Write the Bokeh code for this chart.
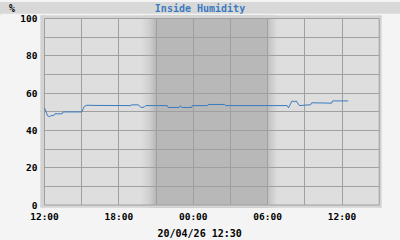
import pandas as pd
import numpy as np
from bokeh.plotting import figure
from bokeh.layouts import column
from bokeh.models import FixedTicker, DatetimeTickFormatter, Range1d, Div, Title
from bokeh.embed import file_html
from bokeh.resources import INLINE

# ---- data ----
times = [
    "2026-04-19 12:00", "2026-04-19 12:15", "2026-04-19 12:25", "2026-04-19 12:35",
    "2026-04-19 12:45", "2026-04-19 12:50", "2026-04-19 13:25", "2026-04-19 13:30",
    "2026-04-19 15:00", "2026-04-19 15:12", "2026-04-19 15:25", "2026-04-19 16:00",
    "2026-04-19 18:58", "2026-04-19 19:00", "2026-04-19 19:35", "2026-04-19 19:45",
    "2026-04-19 20:02", "2026-04-19 20:10", "2026-04-19 21:55", "2026-04-19 21:58",
    "2026-04-19 22:52", "2026-04-19 22:57", "2026-04-19 23:06", "2026-04-19 23:52",
    "2026-04-19 23:56", "2026-04-20 01:08", "2026-04-20 01:12", "2026-04-20 02:32",
    "2026-04-20 02:36", "2026-04-20 07:35", "2026-04-20 07:41", "2026-04-20 07:58",
    "2026-04-20 08:10", "2026-04-20 08:18", "2026-04-20 08:34", "2026-04-20 09:05",
    "2026-04-20 09:28", "2026-04-20 09:33", "2026-04-20 10:34", "2026-04-20 11:10",
    "2026-04-20 11:14", "2026-04-20 12:30",
]
humidity = [
    52.0, 47.8, 47.4, 48.0,
    48.0, 48.9, 48.9, 49.9,
    49.9, 52.8, 53.5, 53.4,
    53.3, 53.7, 53.7, 52.4,
    52.4, 53.3, 53.3, 52.3,
    52.3, 53.2, 52.3, 52.3,
    53.3, 53.3, 53.9, 53.9,
    53.3, 53.3, 52.1, 55.8,
    55.4, 55.8, 53.3, 53.6,
    53.7, 54.8, 54.7, 54.6,
    55.8, 55.8,
]
title_text = "Inside Humidity"
unit_text = "%"
date_text = "20/04/26 12:30"
y_ticks = [0, 20, 40, 60, 80, 100]
x_tick_times = ["2026-04-19 12:00", "2026-04-19 18:00", "2026-04-20 00:00",
                "2026-04-20 06:00", "2026-04-20 12:00"]
x_start, x_end = "2026-04-19 12:00", "2026-04-20 15:00"
night_start, night_end = "2026-04-19 21:00", "2026-04-20 06:00"


def ms(t):
    return pd.Timestamp(t).value / 1e6


H = 3600 * 1000.0
xs = [ms(t) for t in times]
x0, x1 = ms(x_start), ms(x_end)

BG = "#f4f4f4"
BAND = "#d3d3d3"
PLOT = "#dedede"
NIGHT = "#b8b8b8"
GRID = "#a0a0a0"
BLUE = "#3a7bbf"
FONT = "DejaVu Sans Mono"

p = figure(width=400, height=227, x_axis_type="datetime", output_backend="svg",
           toolbar_location=None, min_border_left=40, min_border_right=19,
           min_border_top=2, min_border_bottom=33,
           x_range=Range1d(x0 - 0.3227 * H, x1 + 0.1855 * H),
           y_range=Range1d(-1.34, 101.61), margin=0)
p.background_fill_color = PLOT
p.border_fill_color = BG
p.outline_line_color = None

# night shading with soft edges
p.quad(left=[ms(night_start)], right=[ms(night_end)], bottom=[-5], top=[105],
       fill_color=NIGHT, line_color=None, level="image")
def hexmix(a, b, f):
    ca = [int(a[i:i + 2], 16) for i in (1, 3, 5)]
    cb = [int(b[i:i + 2], 16) for i in (1, 3, 5)]
    return "#%02x%02x%02x" % tuple(int(round(ca[k] + (cb[k] - ca[k]) * f)) for k in range(3))
n = 14
for side, width in ((-1, 1.2), (1, 0.8)):
    edge = ms(night_start) if side < 0 else ms(night_end)
    for i in range(n):
        a = edge + side * width * H * i / n
        b = edge + side * width * H * (i + 1) / n
        col = hexmix(NIGHT, PLOT, (i + 0.5) / n)
        p.quad(left=[min(a, b)], right=[max(a, b)], bottom=[-5], top=[105],
               fill_color=col, line_color=None, level="image")

# grids
p.xgrid.ticker = FixedTicker(ticks=list(np.arange(x0, x1 + 1, 3 * H)))
p.ygrid.ticker = FixedTicker(ticks=list(range(0, 101, 10)))
for g in (p.xgrid, p.ygrid):
    g.grid_line_color = GRID
    g.grid_line_width = 1

# outer band around plot area
xr0, xr1 = x0 - 1 * H, x1 + 1 * H
p.quad(left=[xr0, x1, xr0, xr0], right=[x0, xr1, xr1, xr1],
       bottom=[-10, -10, -10, 100], top=[110, 110, 0, 110],
       fill_color=BAND, line_color=None)
p.quad(left=[x0], right=[x1], bottom=[0], top=[100], fill_color=None,
       line_color=GRID, line_width=1)

p.line(xs, humidity, line_color=BLUE, line_width=1)

# axes
p.yaxis.ticker = FixedTicker(ticks=y_ticks)
p.xaxis.ticker = FixedTicker(ticks=[ms(t) for t in x_tick_times])
fmt = "%H:%M"
p.xaxis.formatter = DatetimeTickFormatter(seconds=fmt, minsec=fmt, minutes=fmt,
                                          hourmin=fmt, hours=fmt, days=fmt,
                                          months=fmt, years=fmt)
for ax in (p.xaxis[0], p.yaxis[0]):
    ax.axis_line_color = None
    ax.major_tick_line_color = None
    ax.minor_tick_line_color = None
    ax.major_tick_out = 0
    ax.major_tick_in = 0
    ax.major_label_text_font = FONT
    ax.major_label_text_font_style = "bold"
    ax.major_label_text_font_size = "9.5px"
    ax.major_label_text_color = "#000000"
    ax.major_label_standoff = 3

# date label under the x axis, centred on the page
p.add_layout(Title(text=date_text, align="left", offset=117, standoff=2,
                   text_font=FONT, text_font_style="bold", text_font_size="10px",
                   text_color="#000000"), "below")

# title bar
header_html = (
    '<div style="position:relative;width:400px;height:13px;background:#d8d8d8;'
    'font-family:\'DejaVu Sans Mono\';font-weight:bold;font-size:10px;line-height:13px;">'
    f'<span style="position:absolute;left:9px;top:0;color:#000;">{unit_text}</span>'
    f'<div style="text-align:center;color:{BLUE};">{title_text}</div></div>'
)
header = Div(text=header_html, width=400, height=13, margin=0)
layout = column(header, p, spacing=0, margin=0)
layout.styles = {"background-color": BG}

open("out.html", "w").write(file_html(layout, INLINE))
